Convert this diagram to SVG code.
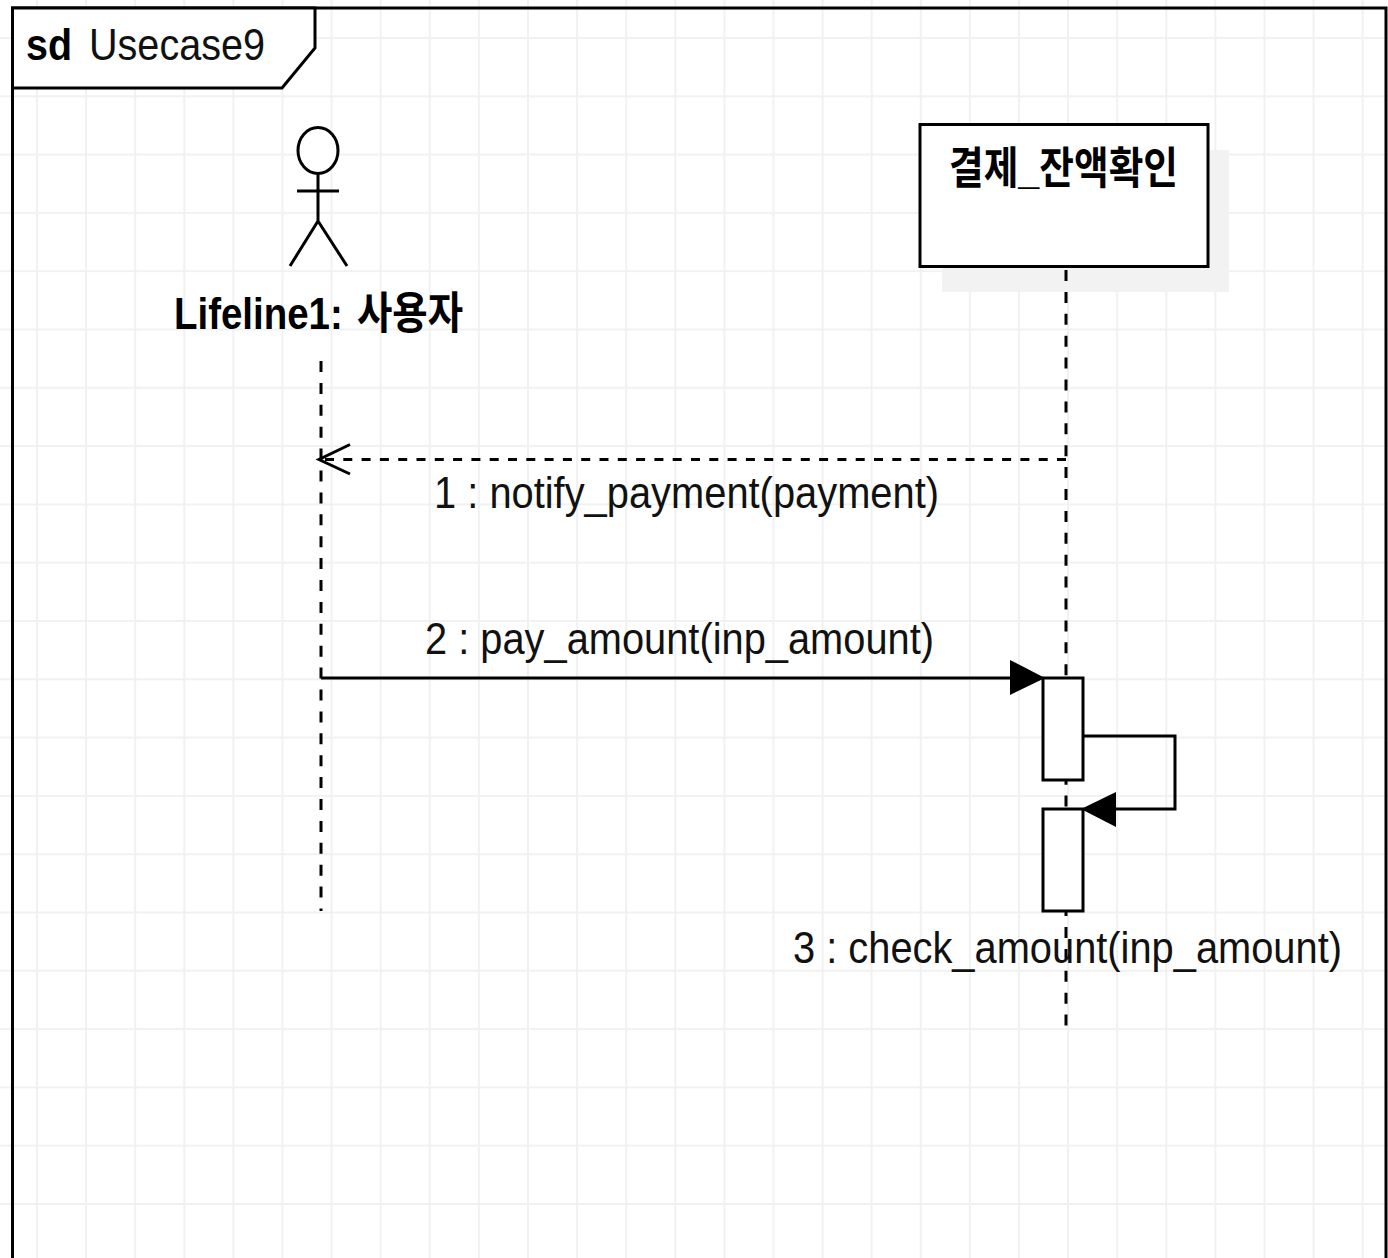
<svg xmlns="http://www.w3.org/2000/svg" width="1388" height="1258" viewBox="0 0 1388 1258">
<defs>
<style>
.t{font-family:"Liberation Sans","Noto Sans CJK KR",sans-serif;fill:#111;font-size:44px}
.b{font-weight:bold;fill:#000}
.l{fill:none;stroke:#000;stroke-width:3}
.v{fill:none;stroke:#000;stroke-width:3;stroke-dasharray:11 10.900}
.h{fill:none;stroke:#000;stroke-width:3;stroke-dasharray:9 9.300}
.g{stroke:#f1f1f1;stroke-width:2;fill:none}
</style>
<pattern id="grid" x="36" y="37" width="49.1" height="58.3" patternUnits="userSpaceOnUse">
<path class="g" d="M1 0V58.3M0 1H49.1"/>
</pattern>
</defs>
<rect width="1388" height="1258" fill="#fff"/>
<rect x="0" y="0" width="1388" height="1258" fill="url(#grid)"/>
<g id="frame">
<path class="l" d="M12.500 1258V8H1386V1258"/>
<path d="M12.500 8H315V48L282 88H12.500Z" fill="#fff" stroke="#000" stroke-width="3"/>
<text class="t b" x="26" y="60" textLength="46" lengthAdjust="spacingAndGlyphs">sd</text>
<text class="t" x="89" y="60" textLength="176" lengthAdjust="spacingAndGlyphs">Usecase9</text>
</g>
<g id="lifeline1">
<ellipse cx="318" cy="150.500" rx="20" ry="23" fill="#fff" stroke="#000" stroke-width="3"/>
<path class="l" d="M318 174V221M297 191H339M290 266L318 221L347 266"/>
<text class="t b" x="174" y="329" textLength="289" lengthAdjust="spacingAndGlyphs" word-spacing="4">Lifeline1: 사용자</text>
</g>
<g id="lifeline2">
<rect x="942" y="150" width="287" height="142" fill="#f2f2f2"/>
<rect x="920" y="124.500" width="288" height="142" fill="#fff" stroke="#000" stroke-width="3"/>
<text class="t b" x="949" y="184" textLength="229" lengthAdjust="spacingAndGlyphs">결제_잔액확인</text>
</g>
<g id="connectors">
<path class="v" d="M321 361V911"/>
<path class="v" d="M1066 270V1026"/>
<path class="h" d="M1066 459.500H325"/>
<path class="l" d="M350 444.500L319 459.500L350 474"/>
<path class="l" d="M321 678H1015"/>
<path d="M1010 660L1045 678L1010 695Z"/>
<path class="l" d="M1083 736H1175V809H1110"/>
<path d="M1116 792L1081 809L1116 827Z"/>
</g>
<g id="activation1"><rect x="1043" y="678" width="40" height="102" fill="#fff" stroke="#000" stroke-width="3"/></g>
<g id="activation2"><rect x="1043" y="809" width="40" height="102" fill="#fff" stroke="#000" stroke-width="3"/></g>
<g id="labels">
<text class="t" x="434" y="508" textLength="505" lengthAdjust="spacingAndGlyphs">1 : notify_payment(payment)</text>
<text class="t" x="425" y="654" textLength="509" lengthAdjust="spacingAndGlyphs">2 : pay_amount(inp_amount)</text>
<text class="t" x="793" y="963" textLength="549" lengthAdjust="spacingAndGlyphs">3 : check_amount(inp_amount)</text>
</g>
</svg>
